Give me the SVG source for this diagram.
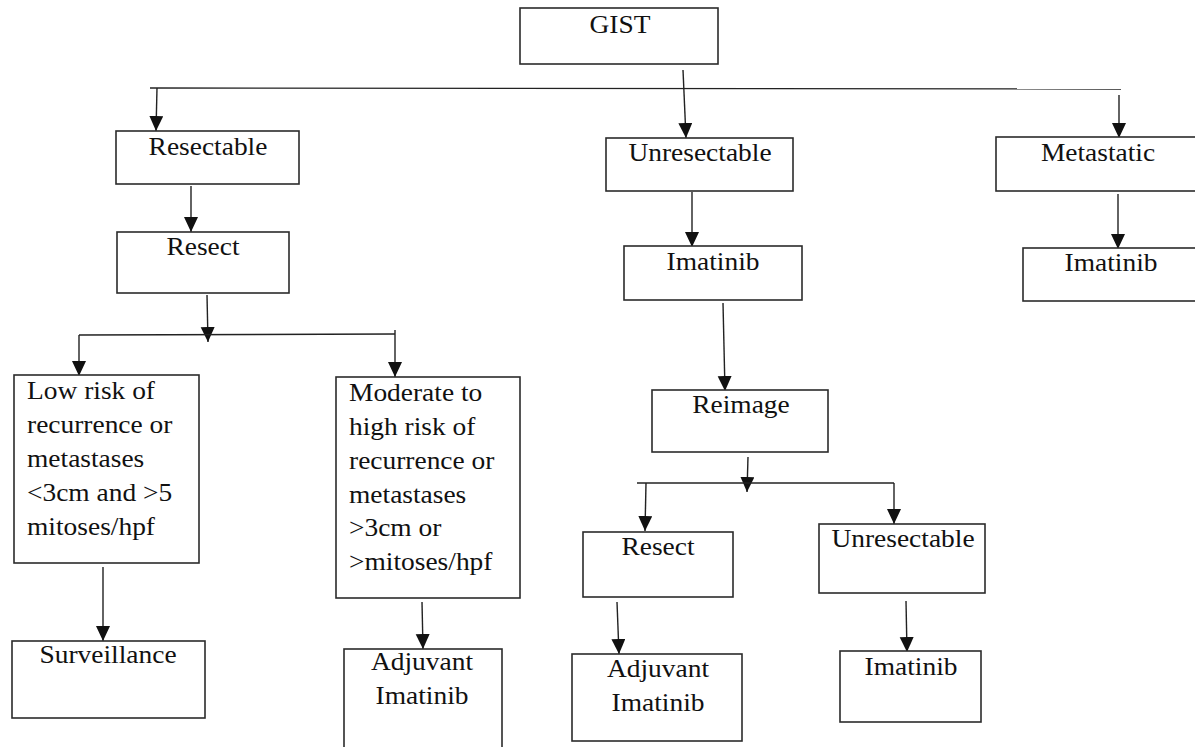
<svg xmlns="http://www.w3.org/2000/svg" width="1195" height="747" viewBox="0 0 1195 747">
<style>
.box{fill:#fff;stroke:#2b2b2b;stroke-width:1.6}
text{font-family:'Liberation Serif','DejaVu Serif',serif;font-size:24.5px;fill:#111}
.c{text-anchor:middle}
.ln{fill:none;stroke:#222;stroke-width:1.4}
.ar{fill:none;stroke:#222;stroke-width:1.4}
</style>
<defs>
<marker id="ah" markerUnits="userSpaceOnUse" markerWidth="16" markerHeight="16" refX="15" refY="7" orient="auto" viewBox="0 0 16 16">
<path d="M0,0 L15,7 L0,14 z" fill="#111"/>
</marker>
</defs>
<rect width="1195" height="747" fill="#fff"/>
<g id="connectors">
<line class="ln" x1="150" y1="88" x2="1121" y2="89"/>
<line class="ar" marker-end="url(#ah)" x1="683" y1="70" x2="686" y2="138"/>
<line class="ar" marker-end="url(#ah)" x1="157" y1="88" x2="156" y2="131"/>
<line class="ar" marker-end="url(#ah)" x1="1119" y1="95" x2="1119" y2="138"/>
<line class="ar" marker-end="url(#ah)" x1="191" y1="186" x2="191" y2="232"/>
<line class="ar" marker-end="url(#ah)" x1="207" y1="295" x2="208" y2="342"/>
<line class="ln" x1="79" y1="335" x2="395" y2="334"/>
<line class="ar" marker-end="url(#ah)" x1="79" y1="335" x2="79" y2="376"/>
<line class="ar" marker-end="url(#ah)" x1="395" y1="330" x2="395" y2="377"/>
<line class="ar" marker-end="url(#ah)" x1="103" y1="567" x2="103" y2="641"/>
<line class="ar" marker-end="url(#ah)" x1="422" y1="602" x2="423" y2="649"/>
<line class="ar" marker-end="url(#ah)" x1="692" y1="192" x2="692" y2="247"/>
<line class="ar" marker-end="url(#ah)" x1="723" y1="303" x2="725" y2="391"/>
<line class="ar" marker-end="url(#ah)" x1="748" y1="457" x2="747" y2="492"/>
<line class="ln" x1="637" y1="483" x2="894" y2="483"/>
<line class="ar" marker-end="url(#ah)" x1="646" y1="483" x2="645" y2="531"/>
<line class="ar" marker-end="url(#ah)" x1="894" y1="483" x2="894" y2="524"/>
<line class="ar" marker-end="url(#ah)" x1="617" y1="602" x2="619" y2="654"/>
<line class="ar" marker-end="url(#ah)" x1="906" y1="601" x2="907" y2="652"/>
<line class="ar" marker-end="url(#ah)" x1="1118" y1="194" x2="1118" y2="249"/>
</g>
<g id="gist"><rect class="box" x="520" y="8" width="198" height="56"/><text class="c" transform="translate(620,33) scale(1.12,1)">GIST</text></g>
<g id="resectable"><rect class="box" x="116" y="131" width="183" height="53"/><text class="c" transform="translate(208,155) scale(1.12,1)">Resectable</text></g>
<g id="unresectable"><rect class="box" x="606" y="138" width="187" height="53"/><text class="c" transform="translate(700,161) scale(1.12,1)">Unresectable</text></g>
<g id="metastatic"><rect class="box" x="996" y="137" width="205" height="54"/><text class="c" transform="translate(1098,161) scale(1.12,1)">Metastatic</text></g>
<g id="resect1"><rect class="box" x="117" y="232" width="172" height="61"/><text class="c" transform="translate(203,255) scale(1.12,1)">Resect</text></g>
<g id="lowrisk"><rect class="box" x="14" y="375" width="185" height="188"/>
<text transform="translate(27,0) scale(1.12,1)"><tspan x="0" y="399">Low risk of</tspan><tspan x="0" y="433">recurrence or</tspan><tspan x="0" y="467">metastases</tspan><tspan x="0" y="501">&lt;3cm and &gt;5</tspan><tspan x="0" y="535">mitoses/hpf</tspan></text></g>
<g id="modrisk"><rect class="box" x="336" y="377" width="184" height="221"/>
<text transform="translate(349,0) scale(1.12,1)"><tspan x="0" y="401">Moderate to</tspan><tspan x="0" y="435">high risk of</tspan><tspan x="0" y="469">recurrence or</tspan><tspan x="0" y="503">metastases</tspan><tspan x="0" y="536">&gt;3cm or</tspan><tspan x="0" y="570">&gt;mitoses/hpf</tspan></text></g>
<g id="surveillance"><rect class="box" x="12" y="641" width="193" height="77"/><text class="c" transform="translate(108,663) scale(1.12,1)">Surveillance</text></g>
<g id="adjuvant1"><rect class="box" x="344" y="649" width="158" height="110"/><text class="c" transform="translate(422,0) scale(1.12,1)"><tspan x="0" y="670">Adjuvant</tspan><tspan x="0" y="704">Imatinib</tspan></text></g>
<g id="imatinib1"><rect class="box" x="624" y="246" width="178" height="54"/><text class="c" transform="translate(713,270) scale(1.12,1)">Imatinib</text></g>
<g id="reimage"><rect class="box" x="652" y="390" width="176" height="62"/><text class="c" transform="translate(741,413) scale(1.12,1)">Reimage</text></g>
<g id="resect2"><rect class="box" x="583" y="532" width="150" height="65"/><text class="c" transform="translate(658,555) scale(1.12,1)">Resect</text></g>
<g id="unresectable2"><rect class="box" x="819" y="524" width="166" height="69"/><text class="c" transform="translate(903,547) scale(1.12,1)">Unresectable</text></g>
<g id="adjuvant2"><rect class="box" x="572" y="654" width="170" height="87"/><text class="c" transform="translate(658,0) scale(1.12,1)"><tspan x="0" y="677">Adjuvant</tspan><tspan x="0" y="711">Imatinib</tspan></text></g>
<g id="imatinib2"><rect class="box" x="840" y="651" width="141" height="71"/><text class="c" transform="translate(911,675) scale(1.12,1)">Imatinib</text></g>
<g id="imatinib3"><rect class="box" x="1023" y="248" width="180" height="53"/><text class="c" transform="translate(1111,271) scale(1.12,1)">Imatinib</text></g>
</svg>
